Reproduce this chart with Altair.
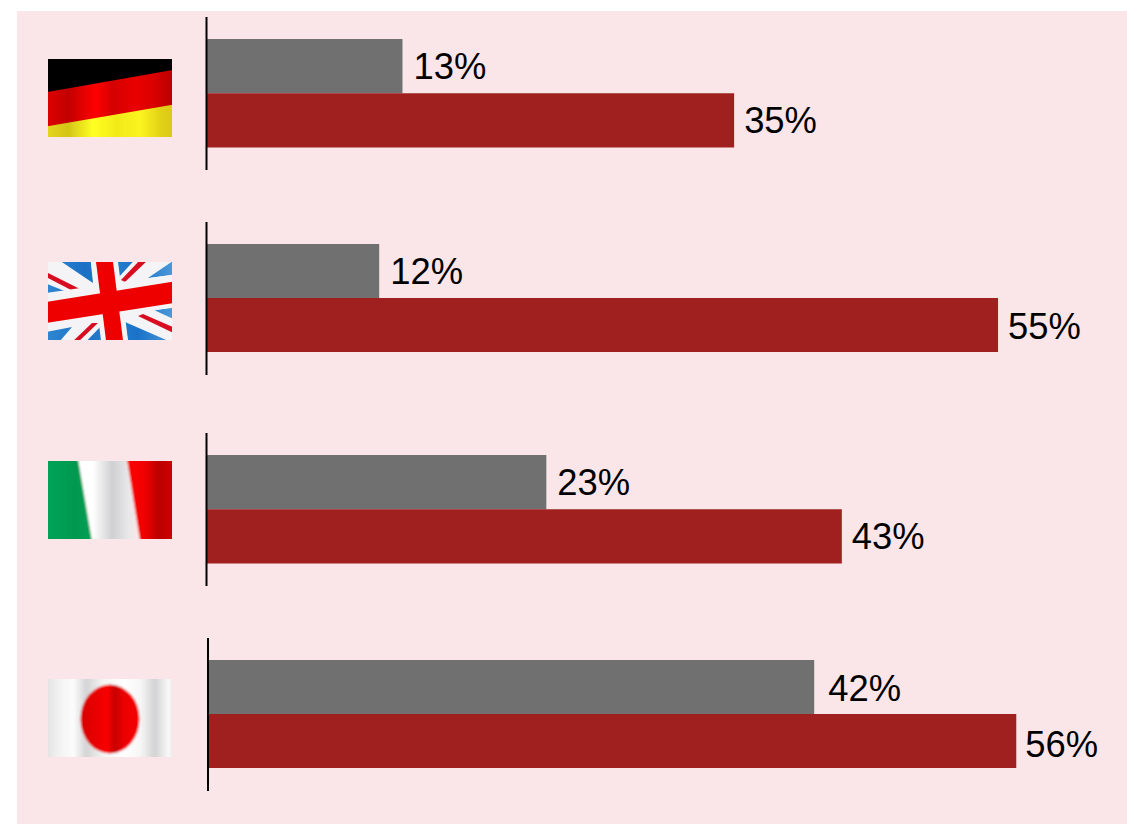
import base64
import altair as alt
import pandas as pd

# Survey shares per country, as printed beside the bars
countries = ["Germany", "United Kingdom", "Italy", "Japan"]
grey_share = [13, 12, 23, 42]
red_share = [35, 55, 43, 56]

PANEL = "#fae6e9"
GREY = "#707070"
RED = "#a02020"

# Row layout: pixel position of 0% and 60%, bar block extent, axis line extent, flag top
x_zero = [206.5, 206.5, 206.5, 208]
x_sixty = [1111, 1070, 1093, 1074]
band_span = [(39, 147.5), (244, 352), (455, 563.5), (660, 768)]
axis_span = [(17, 170), (222, 375), (433, 586), (638, 791)]
flag_top = [59, 262, 461, 679]
FLAG_X, FLAG_W, FLAG_H = 48, 124, 78

# Label nudges from the bar end, one (dx, dy) pair per series in each row
grey_nudge = [(11, 2), (11, 2), (11, 2), (14, 3)]
red_nudge = [(10, 2), (10, 3), (10, 2), (9, 5)]


def gradient(name, stops, user_space=False):
    body = "".join(f'<stop offset="{o}" stop-color="{c}"/>' for o, c in stops)
    if user_space:
        return (
            f'<linearGradient id="{name}" gradientUnits="userSpaceOnUse" x1="0" y1="0" '
            f'x2="{FLAG_W}" y2="0">{body}</linearGradient>'
        )
    return f'<linearGradient id="{name}" x1="0" y1="0" x2="1" y2="0">{body}</linearGradient>'


def flag_uri(defs, shapes, blur=0.6):
    svg = (
        f'<svg xmlns="http://www.w3.org/2000/svg" width="{FLAG_W}" height="{FLAG_H}" '
        f'viewBox="0 0 {FLAG_W} {FLAG_H}"><defs>{defs}'
        f'<filter id="soft" x="-10%" y="-10%" width="120%" height="120%">'
        f'<feGaussianBlur stdDeviation="{blur}"/></filter></defs>'
        f'<g filter="url(#soft)">{shapes}</g></svg>'
    )
    return "data:image/svg+xml;base64," + base64.b64encode(svg.encode()).decode()


germany = flag_uri(
    gradient("r", [(0, "#e80000"), (0.2, "#c20000"), (0.4, "#ff0000"), (0.52, "#d40000"),
                   (0.68, "#ea0000"), (0.8, "#dc0000"), (0.93, "#bf0000"), (1, "#f00000")])
    + gradient("y", [(0, "#eadc1c"), (0.2, "#d4c418"), (0.38, "#ffff22"), (0.55, "#f2ea18"),
                     (0.72, "#fbf420"), (0.87, "#e0d016"), (1, "#d6c610")]),
    '<rect x="-8" y="-8" width="140" height="94" fill="#000"/>'
    '<polygon points="-8,34.4 132,9.6 132,90 -8,90" fill="url(#r)"/>'
    '<polygon points="-8,68.4 132,44.6 132,90 -8,90" fill="url(#y)"/>',
)

uk_blue = "url(#b)"
uk = flag_uri(
    gradient("b", [(0, "#2f86d0"), (0.3, "#1a70c4"), (0.5, "#2a80cc"), (0.72, "#1a72c8"), (1, "#4a98d8")], True),
    '<rect x="-8" y="-8" width="140" height="94" fill="#f4f4f6"/>'
    # blue fields between the arms
    f'<polygon points="2,-8 42,-8 45,21" fill="{uk_blue}"/>'
    f'<polygon points="-8,19 19,30 -8,35" fill="{uk_blue}"/>'
    f'<polygon points="68,-8 92,-8 70,16" fill="{uk_blue}"/>'
    f'<polygon points="132,-6 132,12 100,16" fill="{uk_blue}"/>'
    f'<polygon points="132,45 132,60 106,48" fill="{uk_blue}"/>'
    f'<polygon points="77,60 132,84 132,86 81,86" fill="{uk_blue}"/>'
    f'<polygon points="-8,71 24,65 6,86 -8,86" fill="{uk_blue}"/>'
    f'<polygon points="32,86 54,63 56,86" fill="{uk_blue}"/>'
    # red diagonals
    '<polygon points="-8,7 -8,12 25,29 34,28" fill="#d81020"/>'
    '<polygon points="92,-2 100,-2 77,20 73,18" fill="#d81020"/>'
    '<polygon points="95,52 132,68 132,74 90,54" fill="#d81020"/>'
    '<polygon points="22,82 44,61 50,61 28,82" fill="#d81020"/>'
    # upright and cross bar
    '<polygon points="42,-8 69,-8 81,86 54,86" fill="#f4f4f6"/>'
    '<polygon points="-8,32 132,11.5 132,44 -8,69" fill="#f4f4f6"/>'
    '<polygon points="-8,41 132,18.5 132,40 -8,62" fill="#ee0000"/>'
    '<polygon points="47,-8 64,-8 76,86 59,86" fill="#ee0000"/>',
)

italy = flag_uri(
    gradient("g", [(0, "#00a85a"), (0.5, "#009850"), (1, "#00a858")])
    + gradient("w", [(0, "#ffffff"), (0.25, "#ffffff"), (0.55, "#cfcfd2"), (0.8, "#e8e8ea"), (1, "#ffe8e8")])
    + gradient("t", [(0, "#ff0000"), (0.35, "#f00000"), (0.6, "#bc0000"), (0.85, "#cc0000"), (1, "#fb0000")]),
    '<rect x="-8" y="-8" width="70" height="94" fill="url(#g)"/>'
    '<polygon points="29,-8 79,-8 93,86 45,86" fill="url(#w)" />'
    '<polygon points="78,-8 132,-8 132,86 93,86" fill="url(#t)"/>',
    blur=0.8,
)

japan = flag_uri(
    gradient("s", [(0, "#d8d8da"), (0.12, "#f0f0f0"), (0.24, "#fcfcfc"), (0.33, "#d4d4d6"), (0.45, "#f4f4f4"),
                   (0.6, "#ffffff"), (0.72, "#f6f6f6"), (0.82, "#d2d2d4"), (0.92, "#fafafa"), (1, "#c8c8ca")])
    + gradient("c", [(0, "#d80000"), (0.25, "#e80000"), (0.45, "#fa0000"), (0.58, "#c80000"),
                     (0.75, "#ee0000"), (1, "#f40000")]),
    f'<rect x="-8" y="-8" width="140" height="94" fill="url(#s)"/>'
    f'<ellipse cx="62" cy="40" rx="29.5" ry="34.5" fill="url(#c)"/>',
    blur=0.8,
)

flags = [germany, uk, italy, japan]

# Tinted panel behind everything
panel = (
    alt.Chart(pd.DataFrame({"p": [0]}))
    .mark_rect(color=PANEL)
    .encode(x=alt.value(17), x2=alt.value(1127), y=alt.value(11), y2=alt.value(824))
)


def country_row(i):
    rows = pd.DataFrame(
        {
            "series": ["grey", "red"],
            "share": [grey_share[i], red_share[i]],
            "label": [f"{grey_share[i]}%", f"{red_share[i]}%"],
        }
    )
    x = alt.X(
        "share:Q",
        axis=None,
        scale=alt.Scale(domain=[0, 60], range=[x_zero[i], x_sixty[i]], nice=False, zero=True),
    )
    y = alt.Y(
        "series:N",
        axis=None,
        sort=["grey", "red"],
        scale=alt.Scale(domain=["grey", "red"], range=list(band_span[i]), paddingInner=0, paddingOuter=0),
    )
    base = alt.Chart(rows)
    bars = base.mark_bar(clip=False).encode(
        x=x,
        y=y,
        color=alt.Color(
            "series:N", legend=None, scale=alt.Scale(domain=["grey", "red"], range=[GREY, RED])
        ),
    )
    text_layers = []
    for series, nudge in (("grey", grey_nudge[i]), ("red", red_nudge[i])):
        text_layers.append(
            base.transform_filter(alt.datum.series == series)
            .mark_text(
                align="left", baseline="middle", dx=nudge[0], dy=nudge[1],
                font="Liberation Sans", fontSize=36.4, color="#000000",
            )
            .encode(x=x, y=y, text="label:N")
        )
    axis_line = (
        alt.Chart(pd.DataFrame({"zero": [0]}))
        .mark_rule(color="#000000", strokeWidth=2)
        .encode(
            x=alt.X("zero:Q", axis=None, scale=alt.Scale(domain=[0, 60], range=[x_zero[i] - 0.5, x_sixty[i]])),
            y=alt.value(axis_span[i][0]),
            y2=alt.value(axis_span[i][1]),
        )
    )
    flag = (
        alt.Chart(pd.DataFrame({"country": [countries[i]], "flag": [flags[i]]}))
        .mark_image(width=FLAG_W, height=FLAG_H, align="left", baseline="top", aspect=False)
        .encode(x=alt.value(FLAG_X), y=alt.value(flag_top[i]), url="flag:N")
    )
    return alt.layer(bars, *text_layers, axis_line, flag)


chart = (
    alt.layer(panel, *[country_row(i) for i in range(len(countries))])
    .resolve_scale(x="independent", y="independent", color="independent")
    .properties(
        width=1127,
        height=824,
        padding=0,
        autosize=alt.AutoSizeParams(type="none"),
        background="#ffffff",
    )
    .configure_view(stroke=None)
)

chart.save("out.html", embed_options={"renderer": "svg", "actions": False})
